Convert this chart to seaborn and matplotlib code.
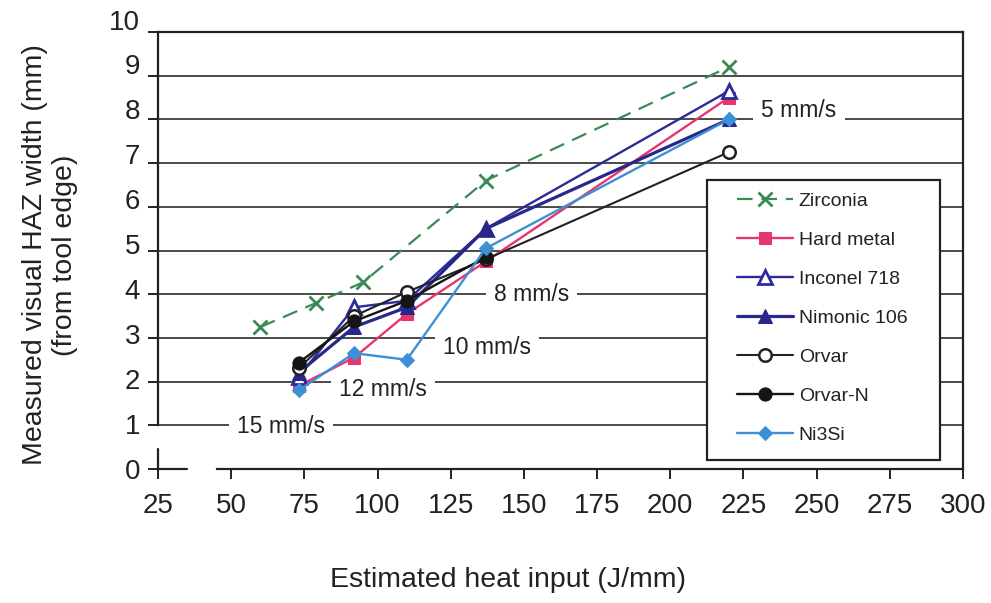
import numpy as np
import pandas as pd
import matplotlib
matplotlib.use("Agg")
import matplotlib.pyplot as plt
import matplotlib.transforms as mtransforms
from matplotlib.patches import Rectangle
import seaborn as sns

# Heat input (J/mm) for the traverse speeds 15, 12, 10, 8 and 5 mm/s
heat_input = [73, 92, 110, 137, 220]
zirconia_heat = [60, 79, 95, 137, 220]
orvar_n_heat = [73, 92, 110, 137]

# Measured visual HAZ width (mm)
zirconia = [3.25, 3.80, 4.27, 6.60, 9.20]
hard_metal = [1.90, 2.55, 3.55, 4.75, 8.50]
inconel_718 = [2.10, 3.70, 3.85, 5.50, 8.65]
nimonic_106 = [2.20, 3.25, 3.70, 5.50, 8.00]
orvar = [2.30, 3.50, 4.05, 4.80, 7.25]
orvar_n = [2.43, 3.38, 3.85, 4.85]
ni3si = [1.80, 2.65, 2.50, 5.05, 8.00]

speed_labels = ["15 mm/s", "12 mm/s", "10 mm/s", "8 mm/s", "5 mm/s"]
speed_label_x = [67, 102, 137.5, 152.5, 244]
speed_label_y = [0.98, 1.82, 2.77, 4.0, 8.2]

x_ticks = list(range(25, 301, 25))
y_ticks = list(range(0, 11))

sns.set_theme(style="white")
plt.rcParams["font.family"] = ["Liberation Sans", "DejaVu Sans"]

fig = plt.figure(figsize=(9.91, 6.03), dpi=100)
ax = fig.add_axes([158 / 991, 1 - 469 / 603, 805 / 991, 437 / 603])

ink = "#222222"
grid_col = "#4a4a4a"

series = [
    ("Zirconia", zirconia_heat, zirconia,
     dict(color="#3a8a55", marker="x", ms=10, mew=2.0, mec="#3a8a55",
          linestyle=(0, (7, 4)), lw=1.6)),
    ("Hard metal", heat_input, hard_metal,
     dict(color="#e8356d", marker="s", ms=8.5, mec="#e8356d", mfc="#e8356d", lw=1.7)),
    ("Inconel 718", heat_input, inconel_718,
     dict(color="#2b2b9b", marker="^", ms=9.5, mec="#2b2b9b", mfc="white", mew=2.0, lw=1.7)),
    ("Nimonic 106", heat_input, nimonic_106,
     dict(color="#28288a", marker="^", ms=10, mec="#28288a", mfc="#28288a", lw=2.3)),
    ("Orvar", heat_input, orvar,
     dict(color="#222222", marker="o", ms=9, mec="#222222", mfc="white", mew=1.8, lw=1.5)),
    ("Orvar-N", orvar_n_heat, orvar_n,
     dict(color="#151515", marker="o", ms=9.5, mec="#151515", mfc="#151515", lw=1.7)),
    ("Ni3Si", heat_input, ni3si,
     dict(color="#3d8fd6", marker="D", ms=7.5, mec="#3d8fd6", mfc="#3d8fd6", lw=1.7)),
]

for name, xs, ys, style in series:
    df = pd.DataFrame({"heat": xs, "haz": ys})
    sns.lineplot(data=df, x="heat", y="haz", ax=ax, label=name,
                 sort=False, zorder=4, **style)

# Horizontal gridlines at the inner integer levels
ax.hlines(y_ticks[1:-1], 25, 300, colors=grid_col, lw=1.4, zorder=0.5)

# Speed annotations sitting on the gridlines
for txt, tx, ty in zip(speed_labels, speed_label_x, speed_label_y):
    ax.text(tx, ty, txt, fontsize=16.5, color=ink, ha="center", va="center",
            zorder=2, bbox=dict(boxstyle="square,pad=0.35", fc="white", ec="none"))

ax.set_xlim(25, 300)
ax.set_ylim(0, 10)
ax.set_xticks(x_ticks)
ax.set_yticks(y_ticks)
ax.tick_params(axis="both", which="both", direction="out", length=7, width=1.4,
               color=ink, labelsize=20, labelcolor=ink, pad=6,
               left=True, bottom=True)
ax.tick_params(axis="x", pad=10)
ax.grid(False)

for side in ["top", "right", "left", "bottom"]:
    ax.spines[side].set_visible(True)
    ax.spines[side].set_color(ink)
    ax.spines[side].set_linewidth(1.6)
ax.spines["left"].set_bounds(1, 10)
ax.spines["bottom"].set_bounds(45, 300)

# Broken-axis stubs near the origin
ax.plot([25, 25], [0, 0.46], color=ink, lw=1.6, clip_on=False, zorder=5)
ax.plot([25, 35], [0, 0], color=ink, lw=1.6, clip_on=False, zorder=5)

ax.set_xlabel("Estimated heat input (J/mm)", fontsize=20.5, color=ink)
ax.xaxis.set_label_coords(0.435, -0.225)
ax.set_ylabel("Measured visual HAZ width (mm)\n(from tool edge)", fontsize=20.5,
              color=ink, linespacing=1.15)
ax.yaxis.set_label_coords(-0.10, 0.49)

# Legend box: white panel with a dark frame, entries laid out inside it
panel = Rectangle((0.682, 0.0206), 0.289, 0.640, transform=ax.transAxes,
                  facecolor="white", edgecolor=ink, lw=1.6, zorder=5.5)
ax.add_patch(panel)
leg = ax.legend(loc="upper left", bbox_to_anchor=(0.719, 0.634),
                fontsize=14, frameon=False, borderpad=0, labelspacing=1.1,
                handlelength=2.9, handletextpad=0.28, borderaxespad=0)
leg.set_zorder(6)
for t in leg.get_texts():
    t.set_color(ink)

# Y tick labels run on a slightly wider pitch than the gridlines
fig.canvas.draw()
for tick in ax.yaxis.get_major_ticks():
    v = tick.get_loc()
    shift = mtransforms.ScaledTranslation(0, 1.25 * v / 100, fig.dpi_scale_trans)
    tick.label1.set_transform(tick.label1.get_transform() + shift)

fig.savefig("out.png", dpi=100, facecolor="white")
